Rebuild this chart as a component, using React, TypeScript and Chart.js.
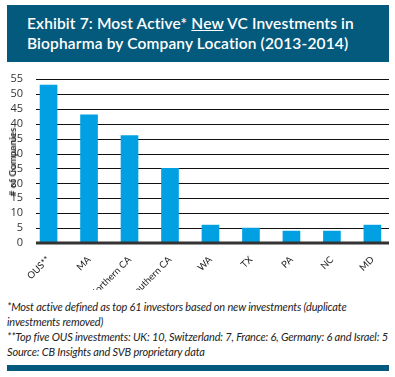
import React, { useEffect, useRef } from "react";
import { Chart, registerables } from "chart.js";

Chart.register(...registerables);

const categories = ["OUS**", "MA", "Northern CA", "Southern CA", "WA", "TX", "PA", "NC", "MD"];
const companies = [53, 43, 36, 25, 6, 5, 4, 4, 6];
const yMax = 55;
const yStep = 5;
const yTitle = "# of Companies";

const TEAL = "#045a7c";
const BAR = "#00a0e2";

export default function App() {
  const ref = useRef<HTMLCanvasElement | null>(null);

  useEffect(() => {
    if (!ref.current) return;
    const chart = new Chart(ref.current, {
      type: "bar",
      data: {
        datasets: [
          {
            data: companies.map((v, i) => ({ x: i, y: v })),
            backgroundColor: BAR,
            barThickness: 17,
          },
        ],
      },
      options: {
        animation: false,
        responsive: false,
        plugins: { legend: { display: false }, tooltip: { enabled: false } },
        layout: { padding: { left: 0, right: 6, top: 14, bottom: 0 } },
        scales: {
          x: {
            type: "linear",
            offset: false,
            min: -0.31,
            max: 8.41,
            afterBuildTicks: (s: any) => {
              s.ticks = categories.map((_, i) => ({ value: i }));
            },
            afterFit: (s: any) => {
              s.height = 47;
            },
            ticks: {
              autoSkip: false,
              maxRotation: 45,
              minRotation: 45,
              padding: 3,
              color: "#222",
              font: { family: "Lato", size: 9.5 },
              callback: (v: any) => categories[v as number] ?? "",
            },
            grid: { display: false },
            border: { display: false },
          },
          y: {
            min: 0,
            max: yMax,
            afterFit: (s: any) => {
              s.width = 36;
            },
            ticks: {
              stepSize: yStep,
              autoSkip: false,
              padding: 5,
              color: "#333",
              font: { family: "'Open Sans'", size: 11 },
            },
            grid: { display: false },
            border: { display: false },
          },
        },
      },
      plugins: [
        {
          id: "gridLines",
          beforeDatasetsDraw(c: any) {
            const ys = c.scales.y;
            const ctx = c.ctx;
            const area = c.chartArea;
            ctx.save();
            ctx.beginPath();
            ctx.rect(area.left, area.top - 2, area.right - area.left, area.bottom - area.top + 4);
            ctx.clip();
            ctx.strokeStyle = "#111";
            ctx.lineWidth = 1;
            ys.ticks.forEach((t: any) => {
              if (t.value === 0) return;
              const y = Math.round(ys.getPixelForValue(t.value)) + 0.5;
              ctx.beginPath();
              ctx.moveTo(area.left, y);
              ctx.lineTo(area.right, y);
              ctx.stroke();
            });
            ctx.restore();
          },
          afterDatasetsDraw(c: any) {
            const y = c.scales.y.getPixelForValue(0);
            const ctx = c.ctx;
            ctx.save();
            ctx.strokeStyle = "#333";
            ctx.lineWidth = 3;
            ctx.beginPath();
            ctx.moveTo(c.chartArea.left, y);
            ctx.lineTo(c.chartArea.right, y);
            ctx.stroke();
            ctx.restore();
          },
        },
      ],
    });
    return () => chart.destroy();
  }, []);

  return (
    <div
      style={{
        position: "fixed",
        left: 0,
        top: 0,
        width: 395,
        height: 377,
        background: "#fff",
        overflow: "hidden",
      }}
    >
      <div
        style={{
          position: "absolute",
          left: 7,
          top: 5,
          width: 382,
          height: 57,
          background: TEAL,
          color: "#fff",
          fontFamily: "Lato, sans-serif",
          fontWeight: 600,
          fontSize: 15.5,
          lineHeight: "20px",
          boxSizing: "border-box",
          padding: "8px 0 0 20px",
          letterSpacing: 0.15,
        }}
      >
        <div>
          Exhibit 7: Most Active* <span style={{ textDecoration: "underline" }}>New</span> VC Investments in
        </div>
        <div>Biopharma by Company Location (2013-2014)</div>
      </div>
      <canvas
        ref={ref}
        width={395}
        height={225}
        style={{ position: "absolute", left: 0, top: 65, width: 395, height: 225 }}
      />
      <div
        style={{
          position: "absolute",
          left: 12,
          top: 162,
          width: 0,
          height: 0,
        }}
      >
        <div
          style={{
            position: "absolute",
            left: 0,
            top: 0,
            transform: "translate(-50%, -50%) rotate(-90deg)",
            whiteSpace: "nowrap",
            fontFamily: "Lato, sans-serif",
            fontWeight: 700,
            fontSize: 10,
            lineHeight: "12px",
            color: "#333",
          }}
        >
          {yTitle}
        </div>
      </div>
      <div
        style={{
          position: "absolute",
          left: 7,
          top: 299,
          width: 388,
          fontFamily: "Lato, sans-serif",
          fontStyle: "italic",
          fontSize: 11,
          lineHeight: "15px",
          color: "#222",
          whiteSpace: "nowrap",
          letterSpacing: -0.17,
        }}
      >
        <div>*Most active defined as top 61 investors based on new investments (duplicate</div>
        <div>investments removed)</div>
        <div>**Top five OUS investments: UK: 10, Switzerland: 7, France: 6, Germany: 6 and Israel: 5</div>
        <div>Source: CB Insights and SVB proprietary data</div>
      </div>
      <div
        style={{
          position: "absolute",
          left: 7,
          top: 365,
          width: 382,
          height: 6,
          background: TEAL,
        }}
      />
    </div>
  );
}
